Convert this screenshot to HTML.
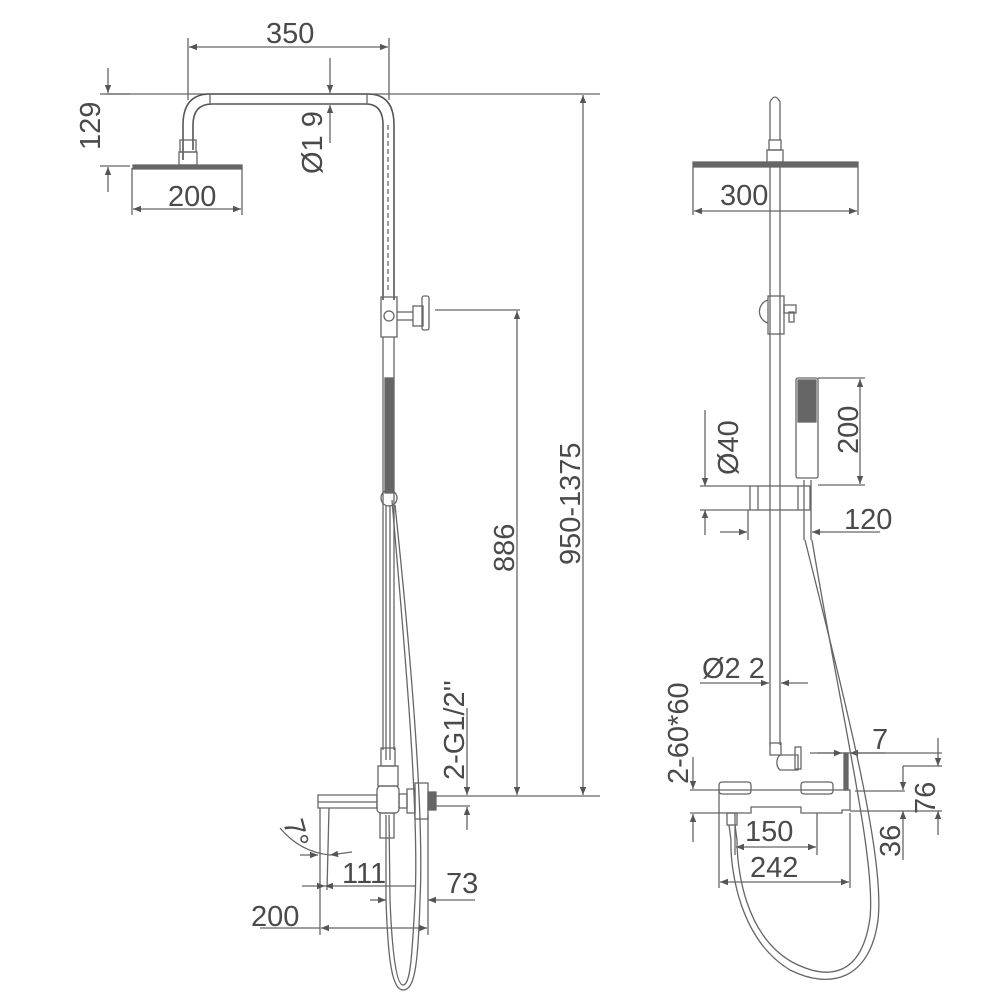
<!DOCTYPE html>
<html><head><meta charset="utf-8"><style>
html,body{margin:0;padding:0;background:#fff;}
svg{display:block}
text{font-family:"Liberation Sans",sans-serif;font-size:29px;fill:#4a4a4a}
</style></head><body>
<svg width="1000" height="1000" viewBox="0 0 1000 1000" xmlns="http://www.w3.org/2000/svg">
<defs>
<marker id="a" viewBox="0 0 10 10" refX="10" refY="5" markerWidth="12" markerHeight="8" orient="auto-start-reverse" markerUnits="userSpaceOnUse"><path d="M0,1 L10,5 L0,9z" fill="#555"/></marker>
</defs>
<g stroke="#666" stroke-width="1.3" fill="none">
<line x1="188" y1="38" x2="188" y2="100"/><line x1="389" y1="38" x2="389" y2="100"/>
<line x1="189" y1="47" x2="388" y2="47" marker-start="url(#a)" marker-end="url(#a)"/>
<line x1="105" y1="94" x2="600" y2="94"/>
<path d="M183,160 L183,125 Q183,94 210,94 L368,94 Q394,94 394,125 L394,300" stroke="#555" stroke-width="1.6"/>
<path d="M193,150 L193,125 Q193,104 212,104 L366,104 Q383,104 383,125 L383,300" stroke="#555" stroke-width="1.6"/>
<line x1="388" y1="125" x2="388" y2="290" stroke-dasharray="5,3"/>
<line x1="210" y1="94" x2="210" y2="104"/><line x1="367" y1="94" x2="367" y2="104"/>
<rect x="180" y="140" width="16" height="12"/>
<rect x="179" y="152" width="18" height="13"/>
<path d="M133,165 L242,165 L242,169 L133,169z" fill="#666"/>
<line x1="100" y1="94" x2="130" y2="94"/><line x1="100" y1="166" x2="130" y2="166"/>
<line x1="108" y1="68" x2="108" y2="93" marker-end="url(#a)"/>
<line x1="108" y1="192" x2="108" y2="167" marker-end="url(#a)"/>
<line x1="132" y1="168" x2="132" y2="215"/><line x1="242" y1="168" x2="242" y2="215"/>
<line x1="133" y1="209" x2="241" y2="209" marker-start="url(#a)" marker-end="url(#a)"/>
<line x1="330" y1="58" x2="330" y2="93" marker-end="url(#a)"/>
<line x1="330" y1="143" x2="330" y2="105" marker-end="url(#a)"/>
<rect x="381" y="297" width="16" height="40"/>
<circle cx="389" cy="316" r="5"/>
<line x1="397" y1="312" x2="413" y2="312"/><line x1="397" y1="320" x2="413" y2="320"/>
<rect x="413" y="306" width="10" height="20"/>
<rect x="422" y="296" width="7" height="34" rx="2"/>
<line x1="435" y1="310" x2="520" y2="310"/>
<line x1="383" y1="337" x2="383" y2="750"/><line x1="394" y1="337" x2="394" y2="750"/>
<rect x="385" y="378" width="8" height="115" fill="#666"/>
<circle cx="389" cy="498" r="8"/>
<path d="M386,505 L386,760 M390,505 L390,760"/>
<path d="M392,500 C400,600 420,800 415,900 C412,960 410,985 403,985 C396,985 392,950 390,900 L389,815"/>
<path d="M395,505 C405,600 425,800 420,900 C418,970 414,990 403,990 C392,990 388,960 386,900 L386,815"/>
<rect x="381" y="748" width="14" height="18"/>
<rect x="378" y="766" width="20" height="20"/>
<rect x="377" y="786" width="22" height="27" rx="4"/>
<rect x="380" y="813" width="14" height="25"/>
<path d="M318,795 L377,795 L377,808 L318,808 z"/>
<line x1="318" y1="802" x2="377" y2="802"/>
<rect x="399" y="794" width="8" height="14"/>
<rect x="407" y="789" width="8" height="24"/>
<rect x="415" y="783" width="13" height="36"/>
<rect x="428" y="792" width="8" height="18" fill="#666"/>
<line x1="436" y1="796" x2="600" y2="796"/><line x1="436" y1="806" x2="470" y2="806"/>
<line x1="517" y1="311" x2="517" y2="795" marker-start="url(#a)" marker-end="url(#a)"/>
<line x1="583" y1="95" x2="583" y2="795" marker-start="url(#a)" marker-end="url(#a)"/>
<line x1="467" y1="708" x2="467" y2="795" marker-end="url(#a)"/>
<line x1="467" y1="830" x2="467" y2="807" marker-end="url(#a)"/>
<path d="M280,828 Q300,852 330,855"/>
<line x1="320" y1="808" x2="320" y2="935"/>
<line x1="329" y1="808" x2="327" y2="890"/>
<line x1="300" y1="855" x2="318" y2="855" marker-end="url(#a)"/>
<line x1="352" y1="852" x2="330" y2="855" marker-end="url(#a)"/>
<line x1="302" y1="886" x2="325" y2="886" marker-end="url(#a)"/>
<line x1="325" y1="886" x2="415" y2="886" marker-start="url(#a)"/>
<line x1="370" y1="900" x2="386" y2="900" marker-end="url(#a)"/>
<line x1="475" y1="900" x2="428" y2="900" marker-end="url(#a)"/>
<line x1="428" y1="815" x2="428" y2="935"/>
<line x1="260" y1="928" x2="320" y2="928"/>
<line x1="321" y1="928" x2="427" y2="928" marker-start="url(#a)" marker-end="url(#a)"/>

<path d="M770,140 L770,102 Q775,92 780,102 L780,140"/>
<rect x="769" y="140" width="12" height="10"/>
<rect x="767" y="150" width="16" height="12"/>
<path d="M693,162 L858,162 L858,167 L693,167z" fill="#666"/>
<line x1="693" y1="167" x2="693" y2="215"/><line x1="858" y1="167" x2="858" y2="215"/>
<line x1="694" y1="211" x2="857" y2="211" marker-start="url(#a)" marker-end="url(#a)"/>
<line x1="770" y1="167" x2="770" y2="745"/><line x1="780" y1="167" x2="780" y2="745"/>
<rect x="768" y="296" width="16" height="38"/>
<path d="M768,300 A12,12 0 0 0 768,323"/>
<rect x="784" y="305" width="12" height="8"/><rect x="789" y="312" width="5" height="10"/>
<rect x="796" y="378" width="22" height="100" rx="2"/>
<rect x="798" y="380" width="18" height="42" fill="#666"/>
<line x1="818" y1="378" x2="865" y2="378"/><line x1="818" y1="485" x2="865" y2="485"/>
<line x1="860" y1="379" x2="860" y2="484" marker-start="url(#a)" marker-end="url(#a)"/>
<rect x="750" y="486" width="60" height="24"/>
<line x1="758" y1="486" x2="758" y2="510"/><line x1="798" y1="486" x2="798" y2="510"/>
<line x1="804" y1="480" x2="804" y2="540"/><line x1="811" y1="480" x2="811" y2="540"/>
<line x1="705" y1="410" x2="705" y2="486" marker-end="url(#a)"/>
<line x1="705" y1="535" x2="705" y2="510" marker-end="url(#a)"/>
<line x1="700" y1="486" x2="750" y2="486"/><line x1="700" y1="510" x2="750" y2="510"/>
<line x1="748" y1="510" x2="748" y2="540"/>
<line x1="720" y1="532" x2="747" y2="532" marker-end="url(#a)"/>
<line x1="880" y1="532" x2="812" y2="532" marker-end="url(#a)"/>
<line x1="700" y1="683" x2="769" y2="683" marker-end="url(#a)"/>
<line x1="808" y1="683" x2="781" y2="683" marker-end="url(#a)"/>
<rect x="770" y="743" width="11" height="12"/>
<path d="M780,755 A7,9 0 0 0 780,770 L798,770 L798,755z"/>
<rect x="795" y="747" width="6" height="22"/>
<rect x="719" y="782" width="32" height="12" rx="3"/>
<rect x="801" y="782" width="32" height="12" rx="3"/>
<path d="M719,790 L850,790 L850,810 L842,810 L842,813 L801,813 L801,807 L751,807 L751,813 L719,813z"/>
<rect x="844" y="753" width="4" height="37" fill="#666"/>
<line x1="810" y1="753" x2="942" y2="753"/>
<line x1="850" y1="811" x2="942" y2="811"/>
<line x1="855" y1="791" x2="905" y2="791"/>
<line x1="690" y1="790" x2="719" y2="790"/><line x1="690" y1="813" x2="719" y2="813"/>
<line x1="693" y1="757" x2="693" y2="789" marker-end="url(#a)"/>
<line x1="693" y1="842" x2="693" y2="814" marker-end="url(#a)"/>
<line x1="818" y1="753" x2="842" y2="753" marker-end="url(#a)"/>
<line x1="885" y1="753" x2="850" y2="753" marker-end="url(#a)"/>
<line x1="938" y1="738" x2="938" y2="766" marker-end="url(#a)"/>
<line x1="938" y1="835" x2="938" y2="811" marker-end="url(#a)"/>
<line x1="903" y1="766" x2="903" y2="790" marker-end="url(#a)"/>
<line x1="903" y1="860" x2="903" y2="811" marker-end="url(#a)"/>
<line x1="903" y1="766" x2="942" y2="766"/>
<line x1="735" y1="813" x2="735" y2="855"/><line x1="817" y1="813" x2="817" y2="855"/>
<line x1="736" y1="847" x2="816" y2="847" marker-start="url(#a)" marker-end="url(#a)"/>
<line x1="719" y1="813" x2="719" y2="888"/><line x1="850" y1="813" x2="850" y2="888"/>
<line x1="720" y1="882" x2="849" y2="882" marker-start="url(#a)" marker-end="url(#a)"/>
<rect x="727" y="813" width="10" height="12"/>
<path d="M729,825 L731,840 C730,870 740,940 790,970 C830,990 870,980 878,920 C885,860 850,720 805,540"/>
<path d="M735,825 L737,840 C737,870 745,935 792,962 C830,982 862,975 870,918 C876,860 842,720 812,540"/>
</g>
<text x="266" y="43">350</text>
<text x="168" y="206">200</text>
<text transform="translate(100,150) rotate(-90)">129</text>
<text transform="translate(322,174) rotate(-90)">Ø1 9</text>
<text transform="translate(514,572) rotate(-90)">886</text>
<text transform="translate(580,565) rotate(-90)">950-1375</text>
<text transform="translate(464,780) rotate(-90)">2-G1/2''</text>
<text transform="translate(283,822) rotate(75)">7°</text>
<text x="342" y="883">111</text>
<text x="446" y="893">73</text>
<text x="251" y="926">200</text>
<text x="720" y="205">300</text>
<text transform="translate(738,475) rotate(-90)">Ø40</text>
<text transform="translate(858,454) rotate(-90)">200</text>
<text x="844" y="529">120</text>
<text x="702" y="678">Ø2 2</text>
<text transform="translate(688,784) rotate(-90)">2-60*60</text>
<text x="872" y="749">7</text>
<text transform="translate(935,814) rotate(-90)">76</text>
<text transform="translate(900,857) rotate(-90)">36</text>
<text x="745" y="841">150</text>
<text x="750" y="877">242</text>
</svg>
</body></html>
